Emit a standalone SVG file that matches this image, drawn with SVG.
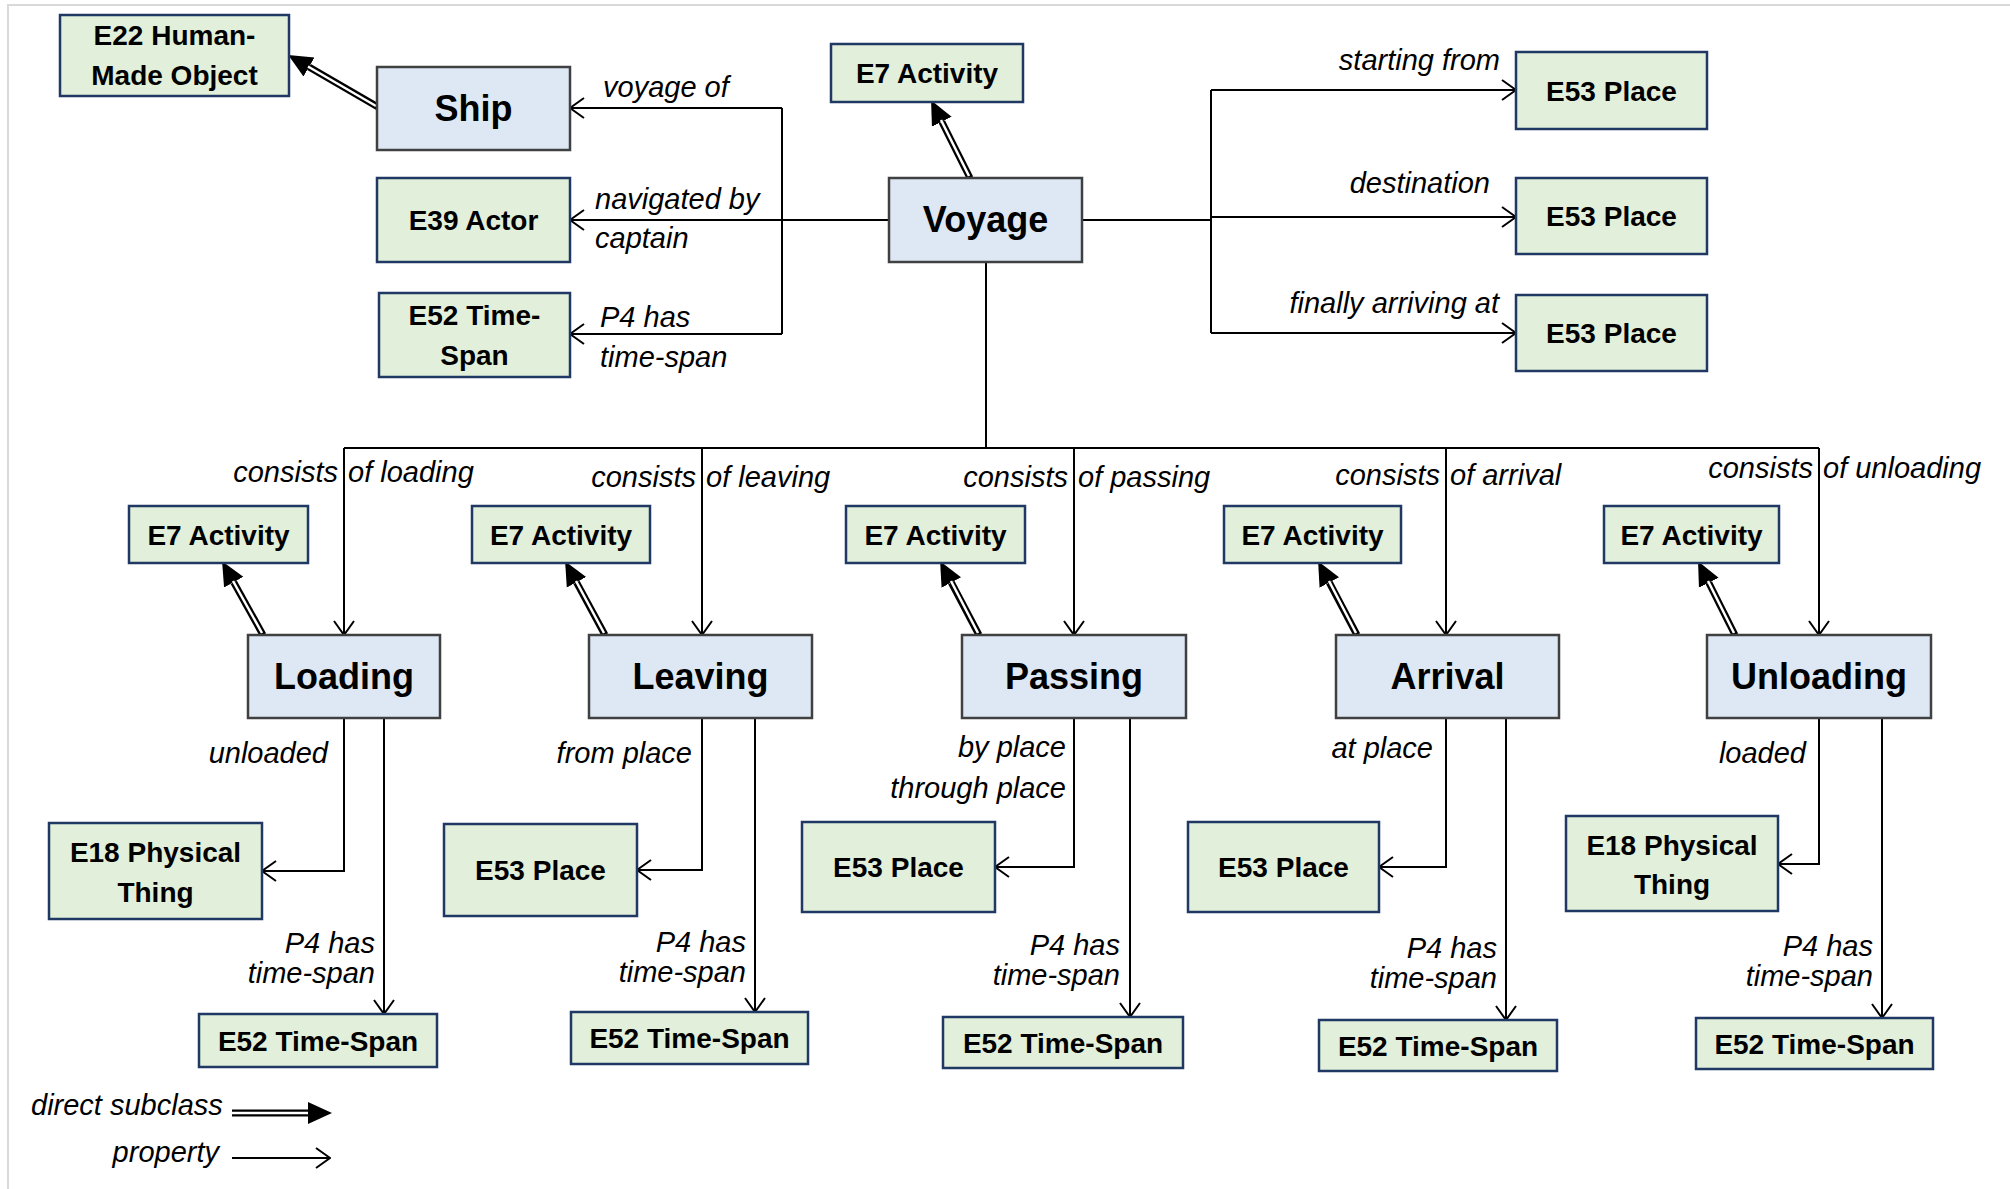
<svg xmlns="http://www.w3.org/2000/svg" width="2010" height="1189" viewBox="0 0 2010 1189">
<style>
.ev{fill:#dde8f4;stroke:#404040;stroke-width:2.5}
.cl{fill:#e2efda;stroke:#1f3864;stroke-width:2.5}
.bt{font-family:"Liberation Sans",Arial,sans-serif;font-weight:bold;font-size:28px;fill:#000;text-anchor:middle}
.tt{font-family:"Liberation Sans",Arial,sans-serif;font-weight:bold;font-size:36px;fill:#000;text-anchor:middle}
.lb{font-family:"Liberation Sans",Arial,sans-serif;font-style:italic;font-size:29px;fill:#000}
.e{text-anchor:end}
.p{fill:none;stroke:#000;stroke-width:2}
.pa{fill:none;stroke:#000;stroke-width:2;marker-end:url(#open)}
.sb{fill:none;stroke:#000;stroke-width:7;marker-end:url(#tri)}
.sw{fill:none;stroke:#fff;stroke-width:2.5}
</style>
<defs>
<marker id="open" markerUnits="userSpaceOnUse" viewBox="0 0 16 22" refX="15" refY="11" markerWidth="16" markerHeight="22" orient="auto">
<path d="M1,1 L15,11 L1,21" fill="none" stroke="#000" stroke-width="2"/>
</marker>
<marker id="tri" markerUnits="userSpaceOnUse" viewBox="0 0 24 24" refX="0" refY="12" markerWidth="24" markerHeight="24" orient="auto">
<path d="M0,1 L24,12 L0,23 z" fill="#000"/>
</marker>
</defs>
<rect width="2010" height="1189" fill="#fff"/>
<path d="M8,1189 V5 H2010" fill="none" stroke="#d9d9d9" stroke-width="2"/>

<g id="connectors">
<!-- Voyage left bracket -->
<path class="pa" d="M889,220 H570"/>
<path class="p" d="M782,108 V334"/>
<path class="pa" d="M782,108 H570"/>
<path class="pa" d="M782,334 H570"/>
<!-- Voyage right bracket -->
<path class="p" d="M1082,220 H1211"/>
<path class="p" d="M1211,90 V333"/>
<path class="pa" d="M1211,90 H1516"/>
<path class="pa" d="M1211,217 H1516"/>
<path class="pa" d="M1211,333 H1516"/>
<!-- Voyage down to bus -->
<path class="p" d="M986,262 V448"/>
<path class="p" d="M344,448 H1819"/>
<path class="pa" d="M344,448 V635"/>
<path class="pa" d="M702,448 V635"/>
<path class="pa" d="M1074,448 V635"/>
<path class="pa" d="M1446,448 V635"/>
<path class="pa" d="M1819,448 V635"/>
<!-- Event properties -->
<path class="pa" d="M344,718 V871 H262"/>
<path class="pa" d="M384,718 V1014"/>
<path class="pa" d="M702,718 V870 H637"/>
<path class="pa" d="M755,718 V1012"/>
<path class="pa" d="M1074,718 V867 H995"/>
<path class="pa" d="M1130,718 V1017"/>
<path class="pa" d="M1446,718 V867 H1379"/>
<path class="pa" d="M1506,718 V1020"/>
<path class="pa" d="M1819,718 V864 H1778"/>
<path class="pa" d="M1882,718 V1018"/>
<!-- Subclass arrows -->
<path class="sb" d="M378,107 L309,67"/><path class="sw" d="M376,106 L308,66.5"/>
<path class="sb" d="M970,178 L941.8,121.7"/><path class="sw" d="M969,176 L941,120"/>
<path class="sb" d="M263,635 L233.7,582.2"/><path class="sw" d="M262,633 L233,581"/>
<path class="sb" d="M605,635 L576.5,582.3"/><path class="sw" d="M604,633 L576,581"/>
<path class="sb" d="M979,635 L951.3,582.5"/><path class="sw" d="M978,633 L951,581"/>
<path class="sb" d="M1357,635 L1329.3,582.5"/><path class="sw" d="M1356,633 L1329,581"/>
<path class="sb" d="M1735,635 L1708.8,582.7"/><path class="sw" d="M1734,633 L1708,581"/>
<!-- Legend -->
<path class="sb" d="M232,1113 H308"/><path class="sw" d="M232,1113 H308"/>
<path class="pa" d="M232,1158 H330"/>
</g>

<g id="labels">
<text class="lb" x="603" y="97">voyage of</text>
<text class="lb" x="595" y="209">navigated by</text>
<text class="lb" x="595" y="248">captain</text>
<text class="lb" x="600" y="327">P4 has</text>
<text class="lb" x="600" y="367">time-span</text>
<text class="lb e" x="1500" y="70">starting from</text>
<text class="lb e" x="1490" y="193">destination</text>
<text class="lb e" x="1499" y="313">finally arriving at</text>

<text class="lb e" x="338" y="482">consists</text><text class="lb" x="348" y="482">of loading</text>
<text class="lb e" x="696" y="487">consists</text><text class="lb" x="706" y="487">of leaving</text>
<text class="lb e" x="1068" y="487">consists</text><text class="lb" x="1078" y="487">of passing</text>
<text class="lb e" x="1440" y="485">consists</text><text class="lb" x="1450" y="485">of arrival</text>
<text class="lb e" x="1813" y="478">consists</text><text class="lb" x="1823" y="478">of unloading</text>

<text class="lb e" x="328" y="763">unloaded</text>
<text class="lb e" x="692" y="763">from place</text>
<text class="lb e" x="1066" y="757">by place</text>
<text class="lb e" x="1066" y="798">through place</text>
<text class="lb e" x="1433" y="758">at place</text>
<text class="lb e" x="1806" y="763">loaded</text>

<text class="lb e" x="375" y="953">P4 has</text><text class="lb e" x="375" y="983">time-span</text>
<text class="lb e" x="746" y="952">P4 has</text><text class="lb e" x="746" y="982">time-span</text>
<text class="lb e" x="1120" y="955">P4 has</text><text class="lb e" x="1120" y="985">time-span</text>
<text class="lb e" x="1497" y="958">P4 has</text><text class="lb e" x="1497" y="988">time-span</text>
<text class="lb e" x="1873" y="956">P4 has</text><text class="lb e" x="1873" y="986">time-span</text>

<text class="lb" x="31" y="1115">direct subclass</text>
<text class="lb e" x="219" y="1162">property</text>
</g>

<g id="e22"><rect class="cl" x="60" y="15" width="229" height="81"/><text class="bt" x="174.5" y="45">E22 Human-</text><text class="bt" x="174.5" y="85">Made Object</text></g>
<g id="ship"><rect class="ev" x="377" y="67" width="193" height="83"/><text class="tt" x="473.5" y="121">Ship</text></g>
<g id="e39"><rect class="cl" x="377" y="178" width="193" height="84"/><text class="bt" x="473.5" y="230">E39 Actor</text></g>
<g id="e52-voyage"><rect class="cl" x="379" y="293" width="191" height="84"/><text class="bt" x="474.5" y="325">E52 Time-</text><text class="bt" x="474.5" y="365">Span</text></g>
<g id="e7-voyage"><rect class="cl" x="831" y="44" width="192" height="58"/><text class="bt" x="927" y="83">E7 Activity</text></g>
<g id="voyage"><rect class="ev" x="889" y="178" width="193" height="84"/><text class="tt" x="985.5" y="232">Voyage</text></g>
<g id="e53-start"><rect class="cl" x="1516" y="52" width="191" height="77"/><text class="bt" x="1611.5" y="100.5">E53 Place</text></g>
<g id="e53-dest"><rect class="cl" x="1516" y="178" width="191" height="76"/><text class="bt" x="1611.5" y="226">E53 Place</text></g>
<g id="e53-final"><rect class="cl" x="1516" y="295" width="191" height="76"/><text class="bt" x="1611.5" y="343">E53 Place</text></g>

<g id="e7-loading"><rect class="cl" x="129" y="506" width="179" height="57"/><text class="bt" x="218.5" y="544.5">E7 Activity</text></g>
<g id="e7-leaving"><rect class="cl" x="472" y="506" width="178" height="57"/><text class="bt" x="561" y="544.5">E7 Activity</text></g>
<g id="e7-passing"><rect class="cl" x="846" y="506" width="179" height="57"/><text class="bt" x="935.5" y="544.5">E7 Activity</text></g>
<g id="e7-arrival"><rect class="cl" x="1224" y="506" width="177" height="57"/><text class="bt" x="1312.5" y="544.5">E7 Activity</text></g>
<g id="e7-unloading"><rect class="cl" x="1604" y="506" width="175" height="57"/><text class="bt" x="1691.5" y="544.5">E7 Activity</text></g>

<g id="loading"><rect class="ev" x="248" y="635" width="192" height="83"/><text class="tt" x="344" y="689">Loading</text></g>
<g id="leaving"><rect class="ev" x="589" y="635" width="223" height="83"/><text class="tt" x="700.5" y="689">Leaving</text></g>
<g id="passing"><rect class="ev" x="962" y="635" width="224" height="83"/><text class="tt" x="1074" y="689">Passing</text></g>
<g id="arrival"><rect class="ev" x="1336" y="635" width="223" height="83"/><text class="tt" x="1447.5" y="689">Arrival</text></g>
<g id="unloading"><rect class="ev" x="1707" y="635" width="224" height="83"/><text class="tt" x="1819" y="689">Unloading</text></g>

<g id="e18-loading"><rect class="cl" x="49" y="823" width="213" height="96"/><text class="bt" x="155.5" y="862">E18 Physical</text><text class="bt" x="155.5" y="902">Thing</text></g>
<g id="e53-leaving"><rect class="cl" x="444" y="824" width="193" height="92"/><text class="bt" x="540.5" y="880">E53 Place</text></g>
<g id="e53-passing"><rect class="cl" x="802" y="822" width="193" height="90"/><text class="bt" x="898.5" y="877">E53 Place</text></g>
<g id="e53-arrival"><rect class="cl" x="1188" y="822" width="191" height="90"/><text class="bt" x="1283.5" y="877">E53 Place</text></g>
<g id="e18-unloading"><rect class="cl" x="1566" y="816" width="212" height="95"/><text class="bt" x="1672" y="855">E18 Physical</text><text class="bt" x="1672" y="894">Thing</text></g>

<g id="e52-loading"><rect class="cl" x="199" y="1014" width="238" height="53"/><text class="bt" x="318" y="1050.5">E52 Time-Span</text></g>
<g id="e52-leaving"><rect class="cl" x="571" y="1012" width="237" height="52"/><text class="bt" x="689.5" y="1048">E52 Time-Span</text></g>
<g id="e52-passing"><rect class="cl" x="943" y="1017" width="240" height="51"/><text class="bt" x="1063" y="1052.5">E52 Time-Span</text></g>
<g id="e52-arrival"><rect class="cl" x="1319" y="1020" width="238" height="51"/><text class="bt" x="1438" y="1055.5">E52 Time-Span</text></g>
<g id="e52-unloading"><rect class="cl" x="1696" y="1018" width="237" height="51"/><text class="bt" x="1814.5" y="1053.5">E52 Time-Span</text></g>
</svg>
